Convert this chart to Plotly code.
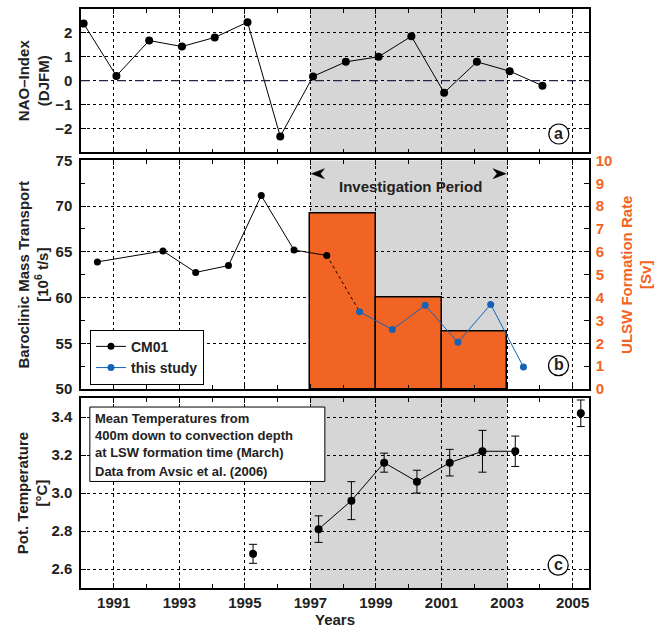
import plotly.graph_objects as go

# ---------------- data ----------------
nao_time = [1990.08, 1991.08, 1992.08, 1993.08, 1994.08, 1995.08, 1996.08, 1997.08,
            1998.08, 1999.08, 2000.08, 2001.08, 2002.08, 2003.08, 2004.08]
nao = [2.39, 0.20, 1.68, 1.43, 1.81, 2.45, -2.33, 0.18, 0.79, 1.00, 1.86, -0.50, 0.79, 0.40, -0.21]

cm01_time = [1990.5, 1992.5, 1993.5, 1994.5, 1995.5, 1996.5, 1997.5]
cm01 = [63.9, 65.1, 62.75, 63.5, 71.15, 65.2, 64.6]

study_time = [1998.5, 1999.5, 2000.5, 2001.5, 2002.5, 2003.5]
study = [58.45, 56.5, 59.15, 55.1, 59.25, 52.4]

ulsw_start = [1997, 1999, 2001]
ulsw_width = [2, 2, 2]
ulsw = [7.7, 4.0, 2.5]

temp_time = [1995.25, 1997.25, 1998.25, 1999.25, 2000.25, 2001.25, 2002.25, 2003.25, 2005.25]
temp = [2.68, 2.81, 2.96, 3.16, 3.06, 3.16, 3.22, 3.22, 3.42]
temp_err = [0.05, 0.07, 0.10, 0.05, 0.06, 0.07, 0.11, 0.08, 0.07]

year_ticks = [1991, 1993, 1995, 1997, 1999, 2001, 2003, 2005]
period = [1997, 2003]

ORANGE = "#F26424"
BLUE = "#1563B5"
GRAY = "#D6D6D6"
TXT = "#222222"
FONT = "Liberation Sans, Arial, Helvetica, sans-serif"

fig = go.Figure()

# panel a
fig.add_trace(go.Scatter(x=nao_time, y=nao, mode="lines+markers", xaxis="x", yaxis="y",
                         line=dict(color="black", width=1), marker=dict(color="black", size=8),
                         showlegend=False))

# panel b: bars on right axis (base)
fig.add_trace(go.Bar(x=ulsw_start, y=ulsw, width=ulsw_width, offset=0, xaxis="x2", yaxis="y2",
                     marker=dict(color=ORANGE, line=dict(color="black", width=1.5)),
                     showlegend=False))
# connector
fig.add_trace(go.Scatter(x=[cm01_time[-1], study_time[0]], y=[cm01[-1], study[0]], mode="lines",
                         xaxis="x2", yaxis="y3", line=dict(color="black", width=1, dash="dot"),
                         showlegend=False))
fig.add_trace(go.Scatter(x=cm01_time, y=cm01, mode="lines+markers", name="CM01",
                         xaxis="x2", yaxis="y3",
                         line=dict(color="black", width=1), marker=dict(color="black", size=7)))
fig.add_trace(go.Scatter(x=study_time, y=study, mode="lines+markers", name="this study",
                         xaxis="x2", yaxis="y3",
                         line=dict(color=BLUE, width=1), marker=dict(color=BLUE, size=7)))

# panel c
fig.add_trace(go.Scatter(x=temp_time[1:8], y=temp[1:8], mode="lines", xaxis="x3", yaxis="y4",
                         line=dict(color="black", width=1), showlegend=False))
fig.add_trace(go.Scatter(x=temp_time, y=temp, mode="markers", xaxis="x3", yaxis="y4",
                         marker=dict(color="black", size=8),
                         error_y=dict(type="data", array=temp_err, color="black", thickness=1, width=4),
                         showlegend=False))

tickfont = dict(family=FONT, size=15, color=TXT, weight="bold")
titlefont = dict(family=FONT, size=15, color=TXT, weight="bold")

xcommon = dict(range=[1990, 2005.5], tickvals=year_ticks, ticks="inside", ticklen=5, tickwidth=1,
               tickcolor="black", showline=True, linecolor="black", linewidth=1.5, mirror="ticks",
               showgrid=True, gridcolor="black", griddash="dot", gridwidth=1, zeroline=False,
               tickfont=tickfont, automargin=False,
               minor=dict(tick0=1990, dtick=2, ticks="inside", ticklen=4, tickcolor="black",
                          showgrid=False))

ycommon = dict(ticks="inside", ticklen=5, tickwidth=1, tickcolor="black", showline=True,
               linecolor="black", linewidth=1.5, showgrid=True, gridcolor="black",
               griddash="dot", gridwidth=1, zeroline=False, tickfont=tickfont, ticklabelstandoff=4,
               automargin=False)

fig.update_layout(
    width=655, height=628,
    margin=dict(l=81, r=66, t=9, b=40),
    paper_bgcolor="white", plot_bgcolor="white",
    font=dict(family=FONT, color=TXT),
    xaxis=dict(**xcommon, domain=[0, 1], anchor="y", showticklabels=False),
    xaxis2=dict(**xcommon, domain=[0, 1], anchor="y2", showticklabels=False, matches="x"),
    xaxis3=dict(**xcommon, domain=[0, 1], anchor="y4", showticklabels=True, matches="x",
                ticklabelstandoff=0,
                title=dict(text="Years", font=titlefont, standoff=0)),
    yaxis=dict(**ycommon, domain=[0.7523, 1], anchor="x", range=[-3, 3],
               tickvals=[-2, -1, 0, 1, 2], mirror="ticks",
               title=dict(text="NAO–Index<br>(DJFM)", font=titlefont, standoff=2)),
    yaxis2=dict(domain=[0.3437, 0.7385], anchor="x2", side="right", range=[0, 10], dtick=1,
                ticks="inside", ticklen=5, tickcolor="black", showline=True, linecolor="black",
                linewidth=1.5, showgrid=False, zeroline=False, ticklabelstandoff=2,
                automargin=False,
                tickfont=dict(family=FONT, size=15, color=ORANGE, weight="bold"),
                title=dict(text="ULSW Formation Rate<br>[Sv]",
                           font=dict(family=FONT, size=15, color=ORANGE, weight="bold"), standoff=10)),
    yaxis3=dict(**ycommon, overlaying="y2", anchor="x2", side="left", range=[50, 75], dtick=5,
                minor=dict(dtick=2.5, ticks="inside", ticklen=4, tickcolor="black", showgrid=False),
                title=dict(text="Baroclinic Mass Transport<br>[10<sup>6</sup> t/s]", font=titlefont,
                           standoff=3)),
    yaxis4=dict(**ycommon, domain=[0, 0.328], anchor="x3", range=[2.5, 3.5],
                tickvals=[2.6, 2.8, 3.0, 3.2, 3.4], tickformat=".1f", mirror="ticks",
                title=dict(text="Pot. Temperature<br>[°C]", font=titlefont, standoff=0)),
    bargap=0,
    legend=dict(x=0.0177, y=0.446, xanchor="left", yanchor="top", bgcolor="white",
                bordercolor="black", borderwidth=1,
                font=dict(family=FONT, size=14, color=TXT, weight="bold"),
                tracegroupgap=0, itemwidth=30),
)

shapes = []
for xr, yr in [("x", "y domain"), ("x2", "y2 domain"), ("x3", "y4 domain")]:
    shapes.append(dict(type="rect", xref=xr, yref=yr, x0=period[0], x1=period[1], y0=0, y1=1,
                       fillcolor=GRAY, line=dict(width=0), layer="below"))
# zero line in panel a
shapes.append(dict(type="line", xref="x domain", yref="y", x0=0, x1=1, y0=0, y1=0,
                   line=dict(color="#1C2A44", width=1.2, dash="dash"), layer="above"))
# text box in panel c
shapes.append(dict(type="rect", xref="x3", yref="y4", x0=1990.27, x1=1997.44, y0=3.061, y1=3.453,
                   fillcolor="white", line=dict(color="black", width=1), layer="above"))
# investigation period arrowheads (barbed, pixel-sized)
shapes.append(dict(type="path", xref="x2", yref="y2", xsizemode="pixel", ysizemode="pixel",
                   xanchor=period[0], yanchor=9.42,
                   path="M 1 0 L 14 5 L 10 0 L 14 -5 Z",
                   fillcolor="black", line=dict(color="black", width=0.5), layer="above"))
shapes.append(dict(type="path", xref="x2", yref="y2", xsizemode="pixel", ysizemode="pixel",
                   xanchor=period[1], yanchor=9.42,
                   path="M -1 0 L -14 5 L -10 0 L -14 -5 Z",
                   fillcolor="black", line=dict(color="black", width=0.5), layer="above"))
# panel letter circles
letters = [("a", "x", "y", 2004.58, -2.23), ("b", "x2", "y2", 2004.57, 1.02),
           ("c", "x3", "y4", 2004.56, 2.62)]
annotations = []
for t, xr, yr, xa, ya in letters:
    shapes.append(dict(type="circle", xref=xr, yref=yr, xsizemode="pixel", ysizemode="pixel",
                       xanchor=xa, yanchor=ya, x0=-10, x1=10, y0=-10, y1=10,
                       fillcolor="white", line=dict(color="black", width=1.2), layer="above"))
    annotations.append(dict(text="<b>%s</b>" % t, xref=xr, yref=yr, x=xa, y=ya, showarrow=False,
                            font=dict(family=FONT, size=16, color=TXT), yshift=1))

annotations.append(dict(text="<b>Investigation Period</b>", xref="x2", yref="y2", x=2000.06, y=8.86,
                        showarrow=False, font=dict(family=FONT, size=15, color=TXT)))

annotations.append(dict(text="<b>Mean Temperatures from<br>400m down to convection depth<br>"
                             "at LSW formation time (March)</b>",
                        xref="x3", yref="y4", x=1990.40, y=3.438, xanchor="left", yanchor="top",
                        align="left", showarrow=False, borderpad=0,
                        font=dict(family=FONT, size=13, color=TXT)))
annotations.append(dict(text="<b>Data from Avsic et al. (2006)</b>",
                        xref="x3", yref="y4", x=1990.40, y=3.115, xanchor="left", yanchor="middle",
                        align="left", showarrow=False, borderpad=0,
                        font=dict(family=FONT, size=13, color=TXT)))

fig.update_layout(shapes=shapes, annotations=annotations)

fig.write_html("out.html", config={"displayModeBar": False},
               post_script="document.body.style.margin='0';document.body.style.padding='0';")
